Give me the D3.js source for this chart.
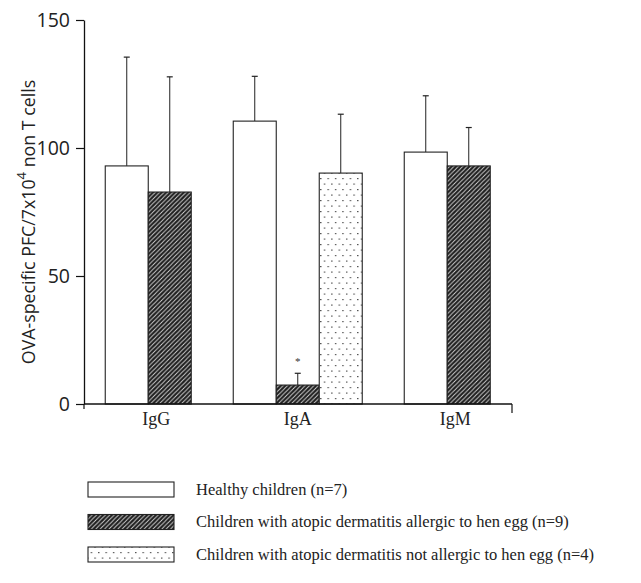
<!DOCTYPE html>
<html><head><meta charset="utf-8">
<script src="https://cdn.jsdelivr.net/npm/d3@7"></script>
<style>body{margin:0;background:#fff}svg{display:block}</style>
</head><body><svg id="c" width="641" height="583"></svg>
<script>
const groups = ["IgG", "IgA", "IgM"];
const seriesNames = ["Healthy children (n=7)", "Children with atopic dermatitis allergic to hen egg (n=9)", "Children with atopic dermatitis not allergic to hen egg (n=4)"];
const healthy = [93, 110.5, 98.4];
const healthySD = [42.5, 17.5, 22];
const allergic = [82.8, 7.4, 93];
const allergicSD = [45, 4.6, 15];
const notAllergic = [null, 90.2, null];
const notAllergicSD = [null, 23, null];
const yTicks = [0, 50, 100, 150];
const marks = [{group: "IgA", series: 1, text: "*"}];

const values = [healthy, allergic, notAllergic];
const sds = [healthySD, allergicSD, notAllergicSD];
const fills = ["#fff", "url(#hatch)", "url(#dots)"];

const svg = d3.select("#c");
const defs = svg.append("defs");
const h = defs.append("pattern").attr("id","hatch").attr("patternUnits","userSpaceOnUse")
  .attr("width",4.4).attr("height",4.4);
h.append("rect").attr("width",4.4).attr("height",4.4).attr("fill","#1e1e1e");
h.append("path").attr("d","M-1,5.4 L5.4,-1 M-1,1 L1,-1 M3.4,5.4 L5.4,3.4").attr("stroke","#d8d8d8").attr("stroke-width",0.9);
const dp = defs.append("pattern").attr("id","dots").attr("patternUnits","userSpaceOnUse")
  .attr("width",7.4).attr("height",11);
dp.append("rect").attr("width",7.4).attr("height",11).attr("fill","#fff");
dp.append("rect").attr("x",2).attr("y",2).attr("width",1.2).attr("height",1.2).attr("fill","#333");
dp.append("rect").attr("x",5.7).attr("y",7.5).attr("width",1.2).attr("height",1.2).attr("fill","#333");

const y = d3.scaleLinear().domain([0,150]).range([404,20]);
const x0 = d3.scaleBand().domain(groups).range([73.5,522]).padding(0);
const barW = 43;

// y axis
const yAxis = d3.axisLeft(y).tickValues(yTicks).tickSize(8).tickSizeOuter(0).tickPadding(5);
const ga = svg.append("g").attr("transform","translate(84,0)").call(yAxis);
ga.select(".domain").attr("stroke","#111").attr("stroke-width",1.3);
ga.selectAll(".tick line").attr("stroke","#111").attr("stroke-width",1.2);
ga.selectAll("text").attr("font-family","'Open Sans', sans-serif").attr("font-size",19.5).attr("fill","#222").attr("dy","0.35em").attr("dx","-1");

// y label
svg.append("text").attr("transform","translate(35,222) rotate(-90)").attr("text-anchor","middle")
  .attr("font-family","'Open Sans', sans-serif").attr("font-size",17.8).attr("fill","#222")
  .text("OVA-specific PFC/7x10").append("tspan").attr("baseline-shift","super").attr("font-size",13).text("4")
  .select(function(){return this.parentNode;}).append("tspan").text(" non T cells");

// bars
groups.forEach((g,gi) => {
  const present = [0,1,2].filter(s => values[s][gi] != null);
  const cx = x0(g) + x0.bandwidth()/2;
  const start = cx - present.length*barW/2;
  present.forEach((s,k) => {
    const v = values[s][gi], sd = sds[s][gi];
    const bx = start + k*barW;
    const bc = bx + barW/2;
    svg.append("line").attr("x1",bc).attr("x2",bc).attr("y1",y(v)).attr("y2",y(v+sd)).attr("stroke","#222").attr("stroke-width",1);
    svg.append("line").attr("x1",bc-3).attr("x2",bc+3).attr("y1",y(v+sd)).attr("y2",y(v+sd)).attr("stroke","#222").attr("stroke-width",1.2);
    svg.append("rect").attr("x",bx).attr("y",y(v)).attr("width",barW).attr("height",y(0)-y(v))
      .attr("fill",fills[s]).attr("stroke","#222").attr("stroke-width",1.1);
    marks.filter(m => m.group===g && m.series===s).forEach(m => {
      svg.append("text").attr("x",bc).attr("y",y(v+sd)-8).attr("text-anchor","middle")
        .attr("font-family","'Liberation Serif', serif").attr("font-size",11).attr("fill","#333").text(m.text);
    });
  });
});

// x axis
const xa = svg.append("g");
xa.append("line").attr("x1",84).attr("x2",512).attr("y1",y(0)).attr("y2",y(0)).attr("stroke","#111").attr("stroke-width",1.4);
xa.append("line").attr("x1",84).attr("x2",84).attr("y1",y(0)).attr("y2",y(0)+5).attr("stroke","#111").attr("stroke-width",1.2);
xa.append("line").attr("x1",512).attr("x2",512).attr("y1",y(0)).attr("y2",y(0)+9).attr("stroke","#111").attr("stroke-width",1.2);
const labelShift = {IgG: 8, IgA: 0, IgM: 8};
xa.selectAll(".xl").data(groups).enter().append("text").attr("class","xl")
  .attr("x", d => x0(d)+x0.bandwidth()/2 + labelShift[d]).attr("y",425).attr("text-anchor","middle")
  .attr("font-family","'Liberation Serif', serif").attr("font-size",18).attr("fill","#222").text(d=>d);

// legend
const lg = svg.append("g");
seriesNames.forEach((n,i) => {
  const yy = 482 + i*32.5;
  lg.append("rect").attr("x",88).attr("y",yy).attr("width",86).attr("height",15)
    .attr("fill",fills[i]).attr("stroke","#222").attr("stroke-width",1.1);
  lg.append("text").attr("x",196).attr("y",yy+12.5).attr("font-family","'Liberation Serif', serif")
    .attr("font-size",16.5).attr("fill","#222").text(n);
});
</script></body></html>
